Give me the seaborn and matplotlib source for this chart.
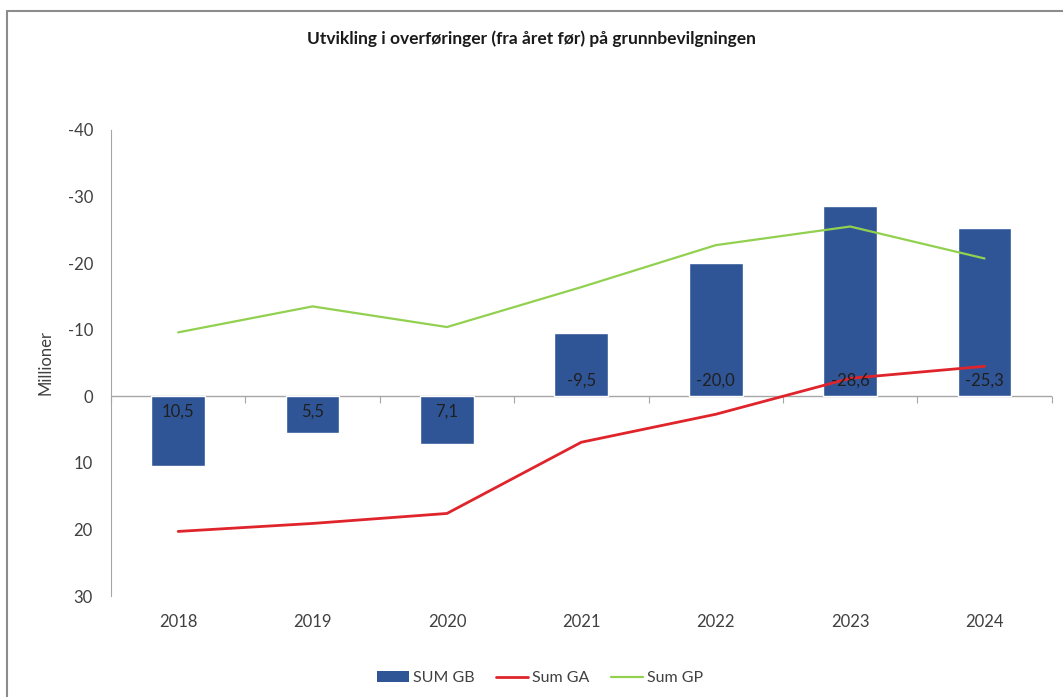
import pandas as pd
import matplotlib
matplotlib.use('Agg')
import matplotlib.pyplot as plt
import seaborn as sns
from matplotlib.lines import Line2D
from matplotlib.patches import Patch

years = ['2018', '2019', '2020', '2021', '2022', '2023', '2024']
sum_gb = [10.5, 5.5, 7.1, -9.5, -20.0, -28.6, -25.3]
sum_ga = [20.3, 19.1, 17.6, 6.9, 2.7, -2.7, -4.5]
sum_gp = [-9.6, -13.5, -10.4, -16.4, -22.7, -25.5, -20.7]

title = 'Utvikling i overføringer (fra året før) på grunnbevilgningen'
ylabel = 'Millioner'
y_ticks = [-40, -30, -20, -10, 0, 10, 20, 30]

bar_color = '#2F5597'
ga_color = '#E0242B'
gp_color = '#92D050'
axis_color = '#A6A6A6'
text_color = '#404040'

sns.set_style('white')
plt.rcParams['font.family'] = ['Lato', 'DejaVu Sans']

df = pd.DataFrame({'year': years, 'gb': sum_gb, 'ga': sum_ga, 'gp': sum_gp})

fig = plt.figure(figsize=(10.63, 6.97), dpi=100)
ax = fig.add_axes([0.1044, 0.1449, 0.885, 0.6686])

sns.barplot(data=df, x='year', y='gb', color=bar_color, width=0.4,
            saturation=1, ax=ax, zorder=2)
sns.lineplot(data=df, x='year', y='ga', color=ga_color, linewidth=2.0,
             sort=False, ax=ax, zorder=3)
sns.lineplot(data=df, x='year', y='gp', color=gp_color, linewidth=1.6,
             sort=False, ax=ax, zorder=3)

ax.set_ylim(30, -40)
ax.set_xlim(-0.5, len(years) - 0.5)
ax.set_yticks(y_ticks)
ax.set_yticklabels([str(t) for t in y_ticks])

# data labels at the base of each bar
for i, v in enumerate(sum_gb):
    off = -11 if v > 0 else 11
    ax.annotate(f'{v:.1f}'.replace('.', ','), xy=(i, 0), xytext=(0, off),
                textcoords='offset points', ha='center', va='center',
                fontsize=12, color='#1F1F1F', zorder=4)

# category axis at zero
ax.axhline(0, color=axis_color, linewidth=1, zorder=1)
zero_frac = 30 / 70
sec = ax.secondary_xaxis(zero_frac)
sec.set_xticks([i - 0.5 for i in range(len(years) + 1)])
sec.set_xticklabels([])
sec.tick_params(length=5, color=axis_color, direction='out')
sec.spines['bottom'].set_visible(False)

for s in ['top', 'right', 'bottom']:
    ax.spines[s].set_visible(False)
ax.spines['left'].set_color(axis_color)
ax.tick_params(axis='both', length=0, labelsize=12, labelcolor=text_color)
ax.tick_params(axis='x', pad=13)
ax.tick_params(axis='y', pad=13)
ax.set_xlabel('')
ax.set_ylabel(ylabel, fontsize=12, color=text_color, labelpad=10)

fig.suptitle(title, fontsize=12.5, fontweight='bold', color='#1A1A1A', y=0.957)

handles = [Patch(facecolor=bar_color, edgecolor='none'),
           Line2D([0], [0], color=ga_color, linewidth=2.0),
           Line2D([0], [0], color=gp_color, linewidth=1.6)]
fig.legend(handles, ['SUM GB', 'Sum GA', 'Sum GP'], loc='center',
           bbox_to_anchor=(0.508, 0.027), ncol=3, frameon=False, fontsize=11.5,
           handlelength=2.0, handleheight=0.7, columnspacing=1.4,
           handletextpad=0.2, labelcolor=text_color)

# outer chart frame (top and left edges visible in the crop)
fig.add_artist(Line2D([7 / 1063, 1], [1 - 11 / 697, 1 - 11 / 697],
                      transform=fig.transFigure, color='#8C8C8C', linewidth=1.5))
fig.add_artist(Line2D([7 / 1063, 7 / 1063], [0, 1 - 11 / 697],
                      transform=fig.transFigure, color='#8C8C8C', linewidth=1.5))

fig.savefig('out.png', dpi=100, facecolor='white')
